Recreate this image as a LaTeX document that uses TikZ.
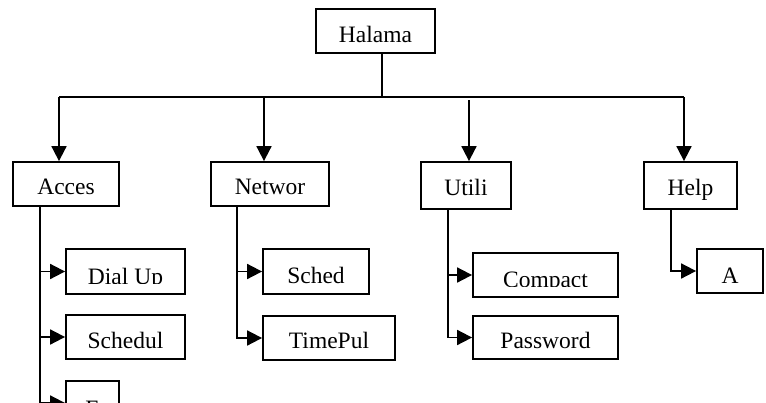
\documentclass[tikz,border=0pt]{standalone}
\usepackage{fontspec}
\setmainfont{Liberation Serif}
\usetikzlibrary{arrows.meta}
\begin{document}
\begin{tikzpicture}[x=1pt,y=-1pt,
  box/.style={draw,line width=1.8pt,inner sep=0pt,rectangle},
  txt/.style={anchor=base,inner sep=0pt,font=\fontsize{23.5}{28}\selectfont},
  conn/.style={line width=1.8pt},
  arr/.style={line width=1.8pt,-{Triangle[length=15pt,width=15pt]}}]
\useasboundingbox (0,0) rectangle (766,402);
\clip (0,0) rectangle (766,402);
% boxes
\node[box,minimum width=119pt,minimum height=44pt] (halama) at (375.5,31) {};
\node[box,minimum width=106pt,minimum height=44pt] (acces) at (66,184) {};
\node[box,minimum width=118pt,minimum height=44pt] (networ) at (270,184) {};
\node[box,minimum width=90pt,minimum height=47pt] (utili) at (466,185.5) {};
\node[box,minimum width=93pt,minimum height=47pt] (help) at (690.5,185.5) {};
\node[box,minimum width=119pt,minimum height=45pt] (dialup) at (125.5,271.5) {};
\node[box,minimum width=119pt,minimum height=44pt] (schedul) at (125.5,337) {};
\node[box,minimum width=53pt,minimum height=44pt] (e) at (92.5,403) {};
\node[box,minimum width=106pt,minimum height=45pt] (sched) at (316,271.5) {};
\node[box,minimum width=132pt,minimum height=44pt] (timepul) at (329,338) {};
\node[box,minimum width=145pt,minimum height=44pt] (compact) at (545.5,275) {};
\node[box,minimum width=145pt,minimum height=43pt] (password) at (545.5,337.5) {};
\node[box,minimum width=66pt,minimum height=44pt] (a) at (730,271) {};
% texts
\node[txt] (thalama) at (halama.center |- 0,42) {Halama};
\node[txt] (tacces) at (acces.center |- 0,194) {Acces};
\node[txt] (tnetwor) at (networ.center |- 0,194) {Networ};
\node[txt] (tutili) at (utili.center |- 0,195) {Utili};
\node[txt] (thelp) at (help.center |- 0,195) {Help};
\begin{scope}
\clip (66,249) rectangle (185,283);
\node[txt] (tdialup) at (dialup.center |- 0,284) {Dial Up};
\end{scope}
\node[txt] (tschedul) at (schedul.center |- 0,348) {Schedul};
\node[txt] (te) at (e.center |- 0,416) {E};
\node[txt] (tsched) at (sched.center |- 0,283) {Sched};
\node[txt] (ttimepul) at (timepul.center |- 0,348) {TimePul};
\begin{scope}
\clip (473,253) rectangle (618,286.5);
\node[txt] (tcompact) at (compact.center |- 0,287.5) {Compact};
\end{scope}
\node[txt] (tpassword) at (password.center |- 0,348) {Password};
\node[txt] (ta) at (a.center |- 0,283) {A};
% top bus
\coordinate (stem) at (382,97);
\coordinate (b1) at (59,97);
\coordinate (b2) at (264,97);
\coordinate (b3) at (469,100);
\coordinate (b4) at (684,97);
\draw[conn] (halama.south -| stem) -- (stem);
\draw[conn] (b1) -- (b4);
\draw[arr] (b1) -- (acces.north -| b1);
\draw[arr] (b2) -- (networ.north -| b2);
\draw[arr] (b3) -- (utili.north -| b3);
\draw[arr] (b4) -- (help.north -| b4);
% trunks
\coordinate (ax) at (40,0);
\coordinate (nx) at (237,0);
\coordinate (ux) at (448,0);
\coordinate (hx) at (671,0);
\draw[arr] (acces.south -| ax) |- (e.west);
\draw[arr] (ax |- dialup.west) -- (dialup.west);
\draw[arr] (ax |- schedul.west) -- (schedul.west);
\draw[arr] (networ.south -| nx) |- (timepul.west);
\draw[arr] (nx |- sched.west) -- (sched.west);
\draw[arr] (utili.south -| ux) |- (password.west);
\draw[arr] (ux |- compact.west) -- (compact.west);
\draw[arr] (help.south -| hx) |- (a.west);
\end{tikzpicture}
\end{document}
